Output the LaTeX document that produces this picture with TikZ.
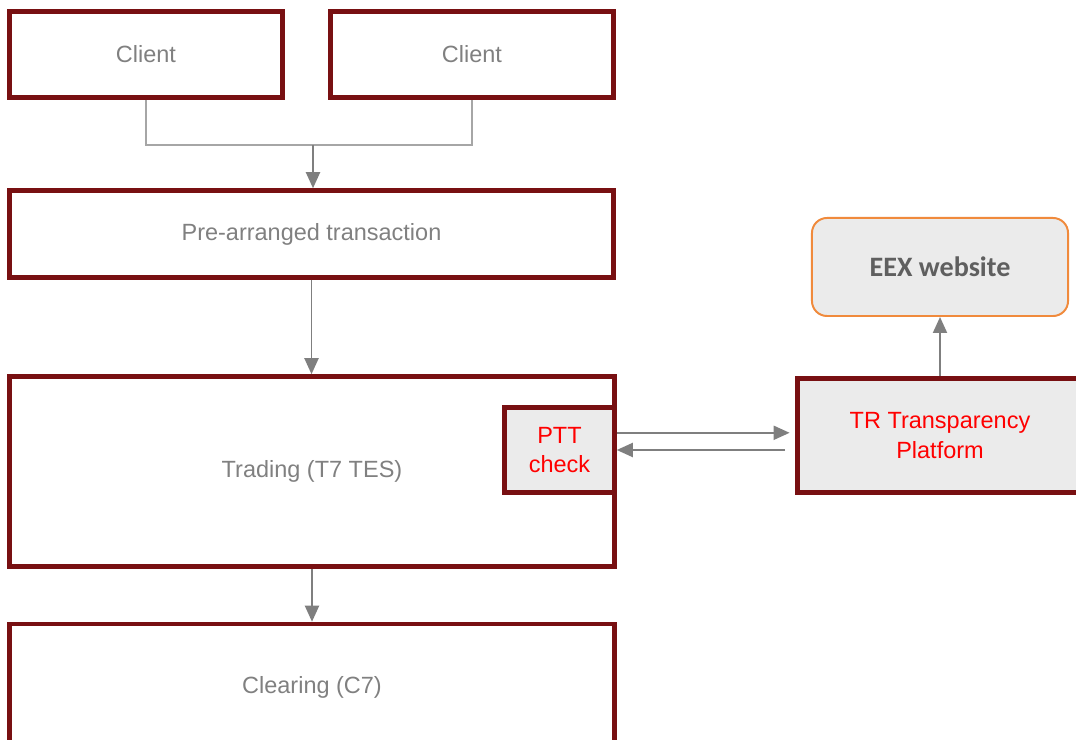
\documentclass[tikz,border=0pt]{standalone}
\usepackage{fontspec}
\setmainfont{Liberation Sans}
\newfontfamily\calibri{Carlito}
\usetikzlibrary{positioning}
\usetikzlibrary{arrows.meta}

\definecolor{borde}{HTML}{781012}
\definecolor{fondo}{HTML}{EBEBEB}
\definecolor{textogris}{HTML}{808080}
\definecolor{flechagris}{HTML}{7F7F7F}
\definecolor{lineagris}{HTML}{A6A6A6}
\definecolor{naranja}{HTML}{F08A3C}
\definecolor{eexgris}{HTML}{5F5F5F}

\begin{document}
\begin{tikzpicture}[x=0.025cm, y=-0.025cm,
    caja/.style={draw=borde, line width=3.2pt, rectangle, inner sep=0pt, align=center,
      text=textogris, font=\fontsize{16.7}{21}\selectfont},
    gris/.style={fill=fondo, text=red},
    web/.style={draw=naranja, line width=1.4pt, rounded corners=0.375cm, fill=fondo,
      text=eexgris, font=\calibri\bfseries\fontsize{20}{24}\selectfont},
    linea/.style={draw=lineagris, line width=1.1pt},
    flecha/.style={draw=flechagris, line width=1.4pt, -{Triangle[width=0.35cm, length=0.4cm]}}]
  \clip (0,0) rectangle (1076,740);

  % Cajas
  \node[caja, minimum width=6.825cm, minimum height=2.15cm] (c1) at (146,54.5) {Client};
  \node[caja, minimum width=7.075cm, minimum height=2.15cm] (c2) at (472,54.5) {Client};
  \node[caja, minimum width=15.1cm, minimum height=2.175cm] (pre) at (311.5,234) {Pre-arranged transaction};
  \node[caja, minimum width=15.125cm, minimum height=4.75cm] (trading) at (312,471.5) {Trading (T7 TES)};
  \node[caja, minimum width=15.125cm, minimum height=3.15cm] (clearing) at (312,687) {Clearing (C7)};
  \node[caja, gris, minimum width=2.75cm, minimum height=2.125cm] (ptt) at (559.5,450) {PTT\\check};
  \node[caja, gris, minimum width=7.125cm, minimum height=2.85cm] (tr) at (940,435.5) {TR Transparency\\Platform};
  \node[web, minimum width=6.4cm, minimum height=2.45cm] (eex) at (940,267) {EEX website};

  % Flechas
  \coordinate (union) at (313,145);
  \draw[linea] (c1.south) |- (union) -| (c2.south);
  \draw[flecha] (union) -- (union |- pre.north);
  \draw[flecha] (pre.south) -- (pre.south |- trading.north);
  \draw[flecha] (trading.south) -- (trading.south |- clearing.north);
  \coordinate (ida) at ([yshift=0.43cm]ptt.east);
  \draw[flecha, shorten >=0.14cm] (ida) -- (ida -| tr.west);
  \draw[flecha, shorten <=0.25cm] (ptt.east -| tr.west) -- (ptt.east);
  \draw[flecha] (tr.north) -- (eex.south);
\end{tikzpicture}
\end{document}
